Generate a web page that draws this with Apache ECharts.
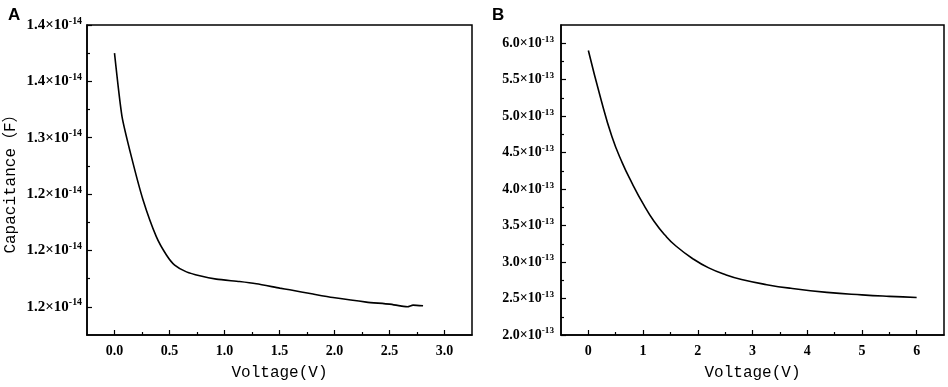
<!DOCTYPE html>
<html>
<head>
<meta charset="utf-8">
<script src="https://cdn.jsdelivr.net/npm/echarts@6/dist/echarts.min.js"></script>
<style>
  html, body { margin: 0; padding: 0; background: #fff; }
  #chart { width: 948px; height: 387px; }
</style>
</head>
<body>
<div id="chart"></div>
<script>
// panel A: capacitance (x1e-14 F) vs voltage
var voltA = [0, 0.068, 0.154, 0.259, 0.381, 0.472, 0.547, 0.654, 0.775, 0.926, 1.137, 1.29, 1.502, 1.593, 1.805, 1.986, 2.29, 2.502, 2.663, 2.714, 2.805];
var capA = [1.375, 1.319, 1.283, 1.245, 1.212, 1.196, 1.187, 1.181, 1.1775, 1.1746, 1.1724, 1.1704, 1.1666, 1.1651, 1.1613, 1.1582, 1.1542, 1.1524, 1.150, 1.1515, 1.1509];
// panel B: capacitance (x1e-13 F) vs voltage
var voltB = [0, 0.22, 0.43, 0.62, 0.8, 1.0, 1.2, 1.4, 1.6, 1.92, 2.2, 2.53, 2.8, 3.26, 3.7, 4.36, 5.0, 5.5, 6.0];
var capB = [5.90, 5.26, 4.72, 4.36, 4.08, 3.80, 3.56, 3.37, 3.22, 3.04, 2.92, 2.82, 2.76, 2.69, 2.64, 2.585, 2.55, 2.53, 2.515];

// tick positions and labels
var xMajorA = [0, 0.5, 1.0, 1.5, 2.0, 2.5, 3.0];
var xMinorA = [0.25, 0.75, 1.25, 1.75, 2.25, 2.75];
var yMajorA = [1.15, 1.20, 1.25, 1.30, 1.35, 1.40];
var yMinorA = [1.175, 1.225, 1.275, 1.325, 1.375];
var yLabelsA = ["1.2", "1.2", "1.2", "1.3", "1.4", "1.4"];
var xMajorB = [0, 1, 2, 3, 4, 5, 6];
var xMinorB = [0.5, 1.5, 2.5, 3.5, 4.5, 5.5];
var yMajorB = [2.0, 2.5, 3.0, 3.5, 4.0, 4.5, 5.0, 5.5, 6.0];
var yMinorB = [2.25, 2.75, 3.25, 3.75, 4.25, 4.75, 5.25, 5.75];
var yLabelsB = ["2.0", "2.5", "3.0", "3.5", "4.0", "4.5", "5.0", "5.5", "6.0"];

var chart = echarts.init(document.getElementById("chart"));

function pick(ticks, labels, v) {
  var best = 0;
  for (var i = 1; i < ticks.length; i++) {
    if (Math.abs(ticks[i] - v) < Math.abs(ticks[best] - v)) best = i;
  }
  return labels[best];
}

var monoFont = "'Liberation Mono', 'Noto Sans CJK SC', monospace";
var tickFont = "'Liberation Serif', serif";

function mainX(grid, min, max, ticks, fmt) {
  return {
    type: "value", gridIndex: grid, min: min, max: max, position: "bottom",
    name: "Voltage(V)", nameLocation: "middle", nameGap: 30,
    nameTextStyle: { fontFamily: monoFont, fontSize: 16, color: "#000" },
    axisLine: { show: true, onZero: false, lineStyle: { color: "#000", width: 1.5 } },
    axisTick: { show: true, inside: true, length: 5, customValues: ticks, lineStyle: { color: "#000", width: 1.2 } },
    axisLabel: { customValues: ticks, margin: 9, color: "#000", fontFamily: tickFont, fontWeight: "bold", fontSize: 14, formatter: fmt },
    splitLine: { show: false }
  };
}
function minorX(grid, min, max, ticks) {
  return {
    type: "value", gridIndex: grid, min: min, max: max, position: "bottom",
    axisLine: { show: false, onZero: false },
    axisTick: { show: true, inside: true, length: 3, customValues: ticks, lineStyle: { color: "#000", width: 1.2 } },
    axisLabel: { show: false },
    splitLine: { show: false }
  };
}
function mainY(grid, min, max, ticks, labels, exp, size, gap) {
  return {
    type: "value", gridIndex: grid, min: min, max: max, position: "left",
    axisLine: { show: true, onZero: false, lineStyle: { color: "#000", width: 1.5 } },
    axisTick: { show: true, inside: true, length: 5, customValues: ticks, lineStyle: { color: "#000", width: 1.2 } },
    axisLabel: {
      customValues: ticks, margin: gap, color: "#000",
      formatter: function (v) { return "{m|" + pick(ticks, labels, v) + "×10}{s|" + exp + "}"; },
      rich: {
        m: { fontFamily: tickFont, fontWeight: "bold", fontSize: size, lineHeight: size + 3, color: "#000" },
        s: { fontFamily: tickFont, fontWeight: "bold", fontSize: size * 0.66, verticalAlign: "top", lineHeight: size * 0.7, color: "#000" }
      }
    },
    splitLine: { show: false }
  };
}
function minorY(grid, min, max, ticks) {
  return {
    type: "value", gridIndex: grid, min: min, max: max, position: "left",
    axisLine: { show: false, onZero: false },
    axisTick: { show: true, inside: true, length: 3, customValues: ticks, lineStyle: { color: "#000", width: 1.2 } },
    axisLabel: { show: false },
    splitLine: { show: false }
  };
}

var yA = mainY(0, 1.125, 1.40, yMajorA, yLabelsA, "-14", 15, 5);
yA.name = "Capacitance（F）";
yA.nameLocation = "middle";
yA.nameGap = 68;
yA.nameTextStyle = { fontFamily: monoFont, fontSize: 16, color: "#000" };

var option = {
  animation: false,
  backgroundColor: "#fff",
  title: [
    { text: "A", left: 3, top: 2, textStyle: { fontFamily: "'Liberation Sans', Arial, sans-serif", fontWeight: "bold", fontSize: 17, color: "#000" } },
    { text: "B", left: 487, top: 2, textStyle: { fontFamily: "'Liberation Sans', Arial, sans-serif", fontWeight: "bold", fontSize: 17, color: "#000" } }
  ],
  grid: [
    { left: 87, top: 25, right: 476, bottom: 52, show: true, borderColor: "#000", borderWidth: 1.5 },
    { left: 561, top: 25, right: 4, bottom: 52, show: true, borderColor: "#000", borderWidth: 1.5 }
  ],
  xAxis: [
    mainX(0, -0.25, 3.25, xMajorA, function (v) { return v.toFixed(1); }),
    minorX(0, -0.25, 3.25, xMinorA),
    mainX(1, -0.5, 6.5, xMajorB, function (v) { return String(Math.round(v)); }),
    minorX(1, -0.5, 6.5, xMinorB)
  ],
  yAxis: [
    yA,
    minorY(0, 1.125, 1.40, yMinorA),
    mainY(1, 2.0, 6.25, yMajorB, yLabelsB, "-13", 14, 7),
    minorY(1, 2.0, 6.25, yMinorB)
  ],
  series: [
    {
      type: "line", xAxisIndex: 0, yAxisIndex: 0, showSymbol: false, smooth: 0.2,
      lineStyle: { color: "#000", width: 1.6 },
      data: voltA.map(function (v, i) { return [v, capA[i]]; })
    },
    {
      type: "line", xAxisIndex: 2, yAxisIndex: 2, showSymbol: false, smooth: true,
      lineStyle: { color: "#000", width: 1.6 },
      data: voltB.map(function (v, i) { return [v, capB[i]]; })
    }
  ]
};
chart.setOption(option);
</script>
</body>
</html>
